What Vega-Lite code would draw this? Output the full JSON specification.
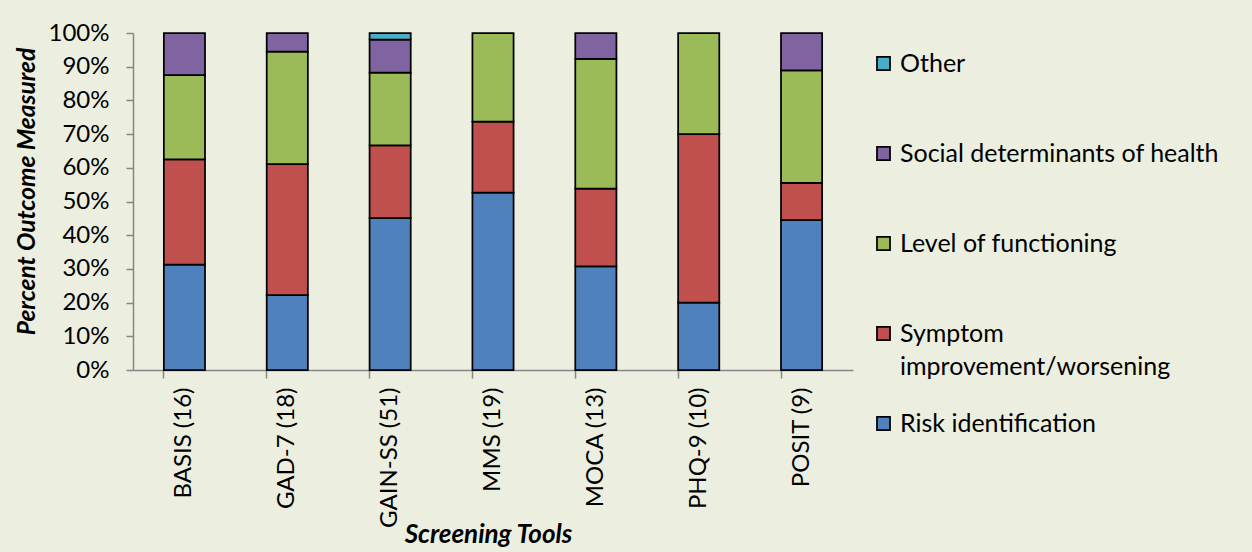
{
  "$schema": "https://vega.github.io/schema/vega-lite/v6.json",
  "width": 720,
  "height": 337,
  "autosize": "none",
  "padding": {"left": 133, "top": 33, "right": 399, "bottom": 182},
  "background": "#ECEFE0",
  "data": {
    "values": [
      {"tool": "BASIS (16)", "outcome": "Risk identification", "rank": 1, "n": 5},
      {"tool": "BASIS (16)", "outcome": "Symptom improvement/worsening", "rank": 2, "n": 5},
      {"tool": "BASIS (16)", "outcome": "Level of functioning", "rank": 3, "n": 4},
      {"tool": "BASIS (16)", "outcome": "Social determinants of health", "rank": 4, "n": 2},
      {"tool": "GAD-7 (18)", "outcome": "Risk identification", "rank": 1, "n": 4},
      {"tool": "GAD-7 (18)", "outcome": "Symptom improvement/worsening", "rank": 2, "n": 7},
      {"tool": "GAD-7 (18)", "outcome": "Level of functioning", "rank": 3, "n": 6},
      {"tool": "GAD-7 (18)", "outcome": "Social determinants of health", "rank": 4, "n": 1},
      {"tool": "GAIN-SS (51)", "outcome": "Risk identification", "rank": 1, "n": 23},
      {"tool": "GAIN-SS (51)", "outcome": "Symptom improvement/worsening", "rank": 2, "n": 11},
      {"tool": "GAIN-SS (51)", "outcome": "Level of functioning", "rank": 3, "n": 11},
      {"tool": "GAIN-SS (51)", "outcome": "Social determinants of health", "rank": 4, "n": 5},
      {"tool": "GAIN-SS (51)", "outcome": "Other", "rank": 5, "n": 1},
      {"tool": "MMS (19)", "outcome": "Risk identification", "rank": 1, "n": 10},
      {"tool": "MMS (19)", "outcome": "Symptom improvement/worsening", "rank": 2, "n": 4},
      {"tool": "MMS (19)", "outcome": "Level of functioning", "rank": 3, "n": 5},
      {"tool": "MOCA (13)", "outcome": "Risk identification", "rank": 1, "n": 4},
      {"tool": "MOCA (13)", "outcome": "Symptom improvement/worsening", "rank": 2, "n": 3},
      {"tool": "MOCA (13)", "outcome": "Level of functioning", "rank": 3, "n": 5},
      {"tool": "MOCA (13)", "outcome": "Social determinants of health", "rank": 4, "n": 1},
      {"tool": "PHQ-9 (10)", "outcome": "Risk identification", "rank": 1, "n": 2},
      {"tool": "PHQ-9 (10)", "outcome": "Symptom improvement/worsening", "rank": 2, "n": 5},
      {"tool": "PHQ-9 (10)", "outcome": "Level of functioning", "rank": 3, "n": 3},
      {"tool": "POSIT (9)", "outcome": "Risk identification", "rank": 1, "n": 4},
      {"tool": "POSIT (9)", "outcome": "Symptom improvement/worsening", "rank": 2, "n": 1},
      {"tool": "POSIT (9)", "outcome": "Level of functioning", "rank": 3, "n": 3},
      {"tool": "POSIT (9)", "outcome": "Social determinants of health", "rank": 4, "n": 1}
    ]
  },
  "mark": {"type": "bar", "stroke": "#000000", "strokeWidth": 1.75},
  "encoding": {
    "x": {
      "field": "tool",
      "type": "nominal",
      "sort": null,
      "scale": {"paddingInner": 0.6, "paddingOuter": 0.3},
      "axis": {
        "title": "Screening Tools",
        "titleFontSize": 26,
        "labelAngle": -90,
        "labelPadding": 9,
        "bandPosition": 0,
        "tickSize": 8,
        "titleX": 355,
        "titleY": 164,
        "titleBaseline": "middle"
      }
    },
    "y": {
      "field": "n",
      "type": "quantitative",
      "stack": "normalize",
      "scale": {"domain": [0, 1]},
      "axis": {
        "title": "Percent Outcome Measured",
        "titleFontSize": 24.5,
        "titleY": 158,
        "format": ".0%",
        "values": [0, 0.1, 0.2, 0.3, 0.4, 0.5, 0.6, 0.7, 0.8, 0.9, 1],
        "tickSize": 7,
        "labelPadding": 17,
        "titlePadding": 9,
        "grid": false
      }
    },
    "color": {
      "field": "outcome",
      "type": "nominal",
      "scale": {
        "domain": ["Other", "Social determinants of health", "Level of functioning", "Symptom improvement/worsening", "Risk identification"],
        "range": ["#4BACC6", "#8064A2", "#9BBB59", "#C0504D", "#4F81BD"]
      },
      "legend": {
        "title": null,
        "orient": "none",
        "legendX": 738,
        "legendY": 18,
        "gridAlign": "all",
        "symbolType": "square",
        "symbolSize": 170,
        "symbolStrokeColor": "#000000",
        "symbolStrokeWidth": 1.75,
        "symbolOpacity": 1,
        "labelFontSize": 25,
        "labelOffset": 4,
        "labelLimit": 400,
        "rowPadding": 31,
        "labelExpr": "datum.label == 'Symptom improvement/worsening' ? ['Symptom', 'improvement/worsening'] : datum.label",
        "encode": {"labels": {"update": {"lineHeight": {"value": 33}}}}
      }
    },
    "order": {"field": "rank", "type": "quantitative", "sort": "ascending"}
  },
  "config": {
    "font": "Lato",
    "view": {"stroke": null},
    "axis": {
      "domainColor": "#868686",
      "tickColor": "#868686",
      "domainWidth": 1.5,
      "tickWidth": 1.5,
      "labelFont": "Lato",
      "labelFontSize": 24,
      "labelColor": "#000000",
      "titleFont": "Lato",
      "titleFontWeight": "bold",
      "titleFontStyle": "italic",
      "titleColor": "#000000"
    },
    "legend": {"labelFont": "Lato", "labelColor": "#000000"}
  }
}
